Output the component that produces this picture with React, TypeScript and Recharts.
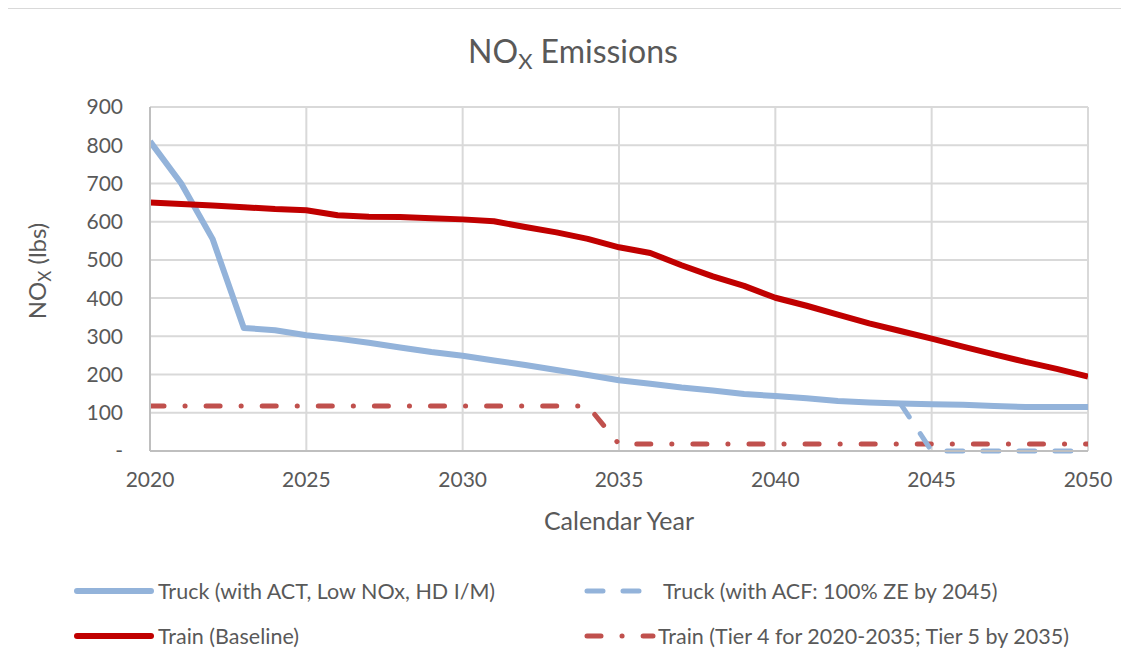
import { CartesianGrid, Line, LineChart, XAxis, YAxis } from "recharts";

const years = [
  2020, 2021, 2022, 2023, 2024, 2025, 2026, 2027, 2028, 2029, 2030, 2031, 2032, 2033, 2034, 2035,
  2036, 2037, 2038, 2039, 2040, 2041, 2042, 2043, 2044, 2045, 2046, 2047, 2048, 2049, 2050,
];
const truckAct = [
  810, 700, 555, 322, 316, 303, 294, 283, 271, 259, 249, 237, 225, 212, 199, 185,
  176, 166, 158, 149, 144, 138, 131, 127, 124, 122, 121, 118, 115, 115, 115,
];
const truckAcf = [
  null, null, null, null, null, null, null, null, null, null, null, null, null, null, null, null,
  null, null, null, null, null, null, null, null, 124, 0, 0, 0, 0, 0, 0,
];
const trainBaseline = [
  650, 646, 642, 638, 633, 630, 617, 613, 612, 609, 606, 601, 586, 572, 555, 533,
  518, 486, 457, 432, 401, 380, 357, 334, 314, 294, 273, 253, 233, 215, 195,
];
const trainTier = [
  118, 118, 118, 118, 118, 118, 118, 118, 118, 118, 118, 118, 118, 118, 118, 18,
  18, 18, 18, 18, 18, 18, 18, 18, 18, 18, 18, 18, 18, 18, 18,
];
const xTicks = [2020, 2025, 2030, 2035, 2040, 2045, 2050];
const yTicks = [0, 100, 200, 300, 400, 500, 600, 700, 800, 900];

const FONT = "Lato, 'Noto Sans', sans-serif";
const TEXT = "#595959";
const BLUE = "#93B3DA";
const RED = "#C00000";
const RED_LIGHT = "#C0504D";
const ACF_DASH = "16 20";
const TIER_DASH = "14 21 0.1 21";

const data = years.map((year, i) => ({
  year,
  truckAct: truckAct[i],
  truckAcf: truckAcf[i],
  trainBaseline: trainBaseline[i],
  trainTier: trainTier[i],
}));

type LegendItem = { label: string; color: string; dash?: string; width: number };

const legendItems: LegendItem[] = [
  { label: "Truck (with ACT, Low NOx, HD I/M)", color: BLUE, width: 6 },
  { label: "Truck (with ACF: 100% ZE by 2045)", color: BLUE, dash: ACF_DASH, width: 5 },
  { label: "Train (Baseline)", color: RED, width: 6 },
  { label: "Train (Tier 4 for 2020-2035; Tier 5 by 2035)", color: RED_LIGHT, dash: TIER_DASH, width: 5 },
];

function LegendEntry({ item, left, top, symbolWidth, gap }: { item: LegendItem; left: number; top: number; symbolWidth: number; gap: number }) {
  return (
    <div style={{ position: "absolute", left, top: top - 15, height: 30, display: "flex", alignItems: "center" }}>
      <svg width={symbolWidth} height={30}>
        <line
          x1={4}
          x2={symbolWidth - 4}
          y1={15}
          y2={15}
          stroke={item.color}
          strokeWidth={item.width}
          strokeDasharray={item.dash}
          strokeLinecap="round"
        />
      </svg>
      <span style={{ marginLeft: gap, whiteSpace: "nowrap" }}>{item.label}</span>
    </div>
  );
}

export default function App() {
  return (
    <div
      style={{
        position: "relative",
        left: -8,
        top: -8,
        width: 1129,
        height: 666,
        background: "#fff",
        fontFamily: FONT,
        color: TEXT,
        fontSize: 21.5,
        overflow: "hidden",
      }}
    >
      <div
        style={{
          position: "absolute",
          left: 6,
          top: 7,
          width: 1140,
          height: 700,
          border: "2px solid #D9D9D9",
        }}
      />
      <div style={{ position: "absolute", left: 0, width: 1146, top: 31, textAlign: "center", fontSize: 32 }}>
        NO<sub style={{ fontSize: 22, verticalAlign: "-6px" }}>X</sub> Emissions
      </div>
      <div
        style={{
          position: "absolute",
          left: 38,
          top: 271,
          transform: "translate(-50%, -50%) rotate(-90deg)",
          whiteSpace: "nowrap",
          fontSize: 24,
        }}
      >
        NO<sub style={{ fontSize: 17, verticalAlign: "-5px" }}>X</sub> (lbs)
      </div>
      <div style={{ position: "absolute", left: 469, width: 300, top: 505, textAlign: "center", fontSize: 25 }}>
        Calendar Year
      </div>

      <div style={{ position: "absolute", left: 0, top: 0 }}>
        <LineChart width={1129} height={666} data={data} margin={{ top: 107, right: 41, bottom: 175, left: 70 }}>
          <CartesianGrid stroke="#D9D9D9" strokeWidth={2} />
          <XAxis
            dataKey="year"
            type="number"
            domain={[2020, 2050]}
            ticks={xTicks}
            allowDataOverflow
            height={40}
            tickLine={false}
            tickSize={0}
            tickMargin={21}
            axisLine={{ stroke: "#BFBFBF", strokeWidth: 2 }}
            tick={{ fill: TEXT, fontSize: 21, fontFamily: FONT }}
          />
          <YAxis
            domain={[0, 900]}
            ticks={yTicks}
            width={80}
            tickLine={false}
            tickSize={0}
            tickMargin={27}
            axisLine={{ stroke: "#BFBFBF", strokeWidth: 2 }}
            tick={{ fill: TEXT, fontSize: 21, fontFamily: FONT }}
            tickFormatter={(v: number) => (v === 0 ? "-" : String(v))}
          />
          <Line
            dataKey="trainTier"
            stroke={RED_LIGHT}
            strokeWidth={5}
            strokeDasharray={TIER_DASH}
            strokeLinecap="round"
            dot={false}
            isAnimationActive={false}
          />
          <Line
            dataKey="truckAcf"
            stroke={BLUE}
            strokeWidth={5}
            strokeDasharray={ACF_DASH}
            strokeLinecap="round"
            dot={false}
            isAnimationActive={false}
          />
          <Line
            dataKey="truckAct"
            stroke={BLUE}
            strokeWidth={6}
            strokeLinejoin="round"
            dot={false}
            isAnimationActive={false}
          />
          <Line
            dataKey="trainBaseline"
            stroke={RED}
            strokeWidth={6}
            strokeLinejoin="round"
            dot={false}
            isAnimationActive={false}
          />
        </LineChart>
      </div>

      <LegendEntry item={legendItems[0]} left={73} top={591} symbolWidth={82} gap={3} />
      <LegendEntry item={legendItems[1]} left={583} top={591} symbolWidth={74} gap={6} />
      <LegendEntry item={legendItems[2]} left={73} top={636} symbolWidth={82} gap={3} />
      <LegendEntry item={legendItems[3]} left={583} top={636} symbolWidth={74} gap={1} />
    </div>
  );
}
